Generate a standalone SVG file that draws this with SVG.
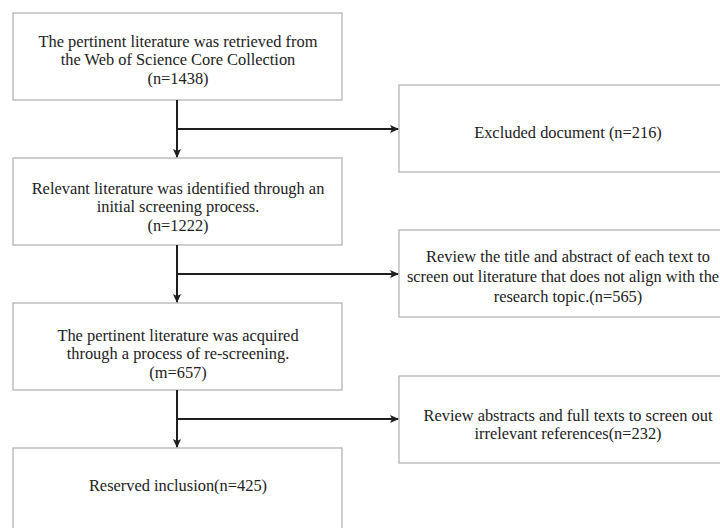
<svg xmlns="http://www.w3.org/2000/svg" width="720" height="528" viewBox="0 0 720 528">
<style>
.box{fill:#fff;stroke:#b4b4b4;stroke-width:1.3}
.t{font-family:"Liberation Serif","Times New Roman",serif;font-size:16.4px;fill:#222;text-anchor:middle}
.c{fill:none;stroke:#1e1e1e;stroke-width:2}
</style>
<defs>
<marker id="ah" markerWidth="9" markerHeight="9" refX="8" refY="4.5" orient="auto" markerUnits="userSpaceOnUse">
<path d="M0,0.5 L9,4.5 L0,8.5 L2,4.5 Z" fill="#1e1e1e"/>
</marker>
</defs>
<rect width="720" height="528" fill="#fff"/>
<g id="n1">
<rect class="box" x="13" y="13" width="329" height="87"/>
<text class="t" x="178" y="47">The pertinent literature was retrieved from</text>
<text class="t" x="178" y="65">the Web of Science Core Collection</text>
<text class="t" x="178" y="84">(n=1438)</text>
</g>
<g id="n2">
<rect class="box" x="399" y="85" width="338" height="87"/>
<text class="t" x="568" y="138">Excluded document (n=216)</text>
</g>
<g id="n3">
<rect class="box" x="13" y="158" width="329" height="87"/>
<text class="t" x="178" y="194">Relevant literature was identified through an</text>
<text class="t" x="178" y="212">initial screening process.</text>
<text class="t" x="178" y="231">(n=1222)</text>
</g>
<g id="n4">
<rect class="box" x="399" y="230" width="338" height="87"/>
<text class="t" x="568" y="262">Review the title and abstract of each text to</text>
<text class="t" x="563" y="282">screen out literature that does not align with the</text>
<text class="t" x="568" y="302">research topic.(n=565)</text>
</g>
<g id="n5">
<rect class="box" x="13" y="303" width="329" height="87"/>
<text class="t" x="178" y="341">The pertinent literature was acquired</text>
<text class="t" x="178" y="359">through a process of re-screening.</text>
<text class="t" x="178" y="378">(m=657)</text>
</g>
<g id="n6">
<rect class="box" x="399" y="376" width="338" height="87"/>
<text class="t" x="568" y="421">Review abstracts and full texts to screen out</text>
<text class="t" x="568" y="439">irrelevant references(n=232)</text>
</g>
<g id="n7">
<rect class="box" x="13" y="448" width="329" height="87"/>
<text class="t" x="178" y="491">Reserved inclusion(n=425)</text>
</g>
<g id="connectors">
<path class="c" d="M177,100 V157" marker-end="url(#ah)"/>
<path class="c" d="M177,129 H398" marker-end="url(#ah)"/>
<path class="c" d="M177,245 V302" marker-end="url(#ah)"/>
<path class="c" d="M177,274 H398" marker-end="url(#ah)"/>
<path class="c" d="M177,390 V447" marker-end="url(#ah)"/>
<path class="c" d="M177,419 H398" marker-end="url(#ah)"/>
</g>
</svg>
